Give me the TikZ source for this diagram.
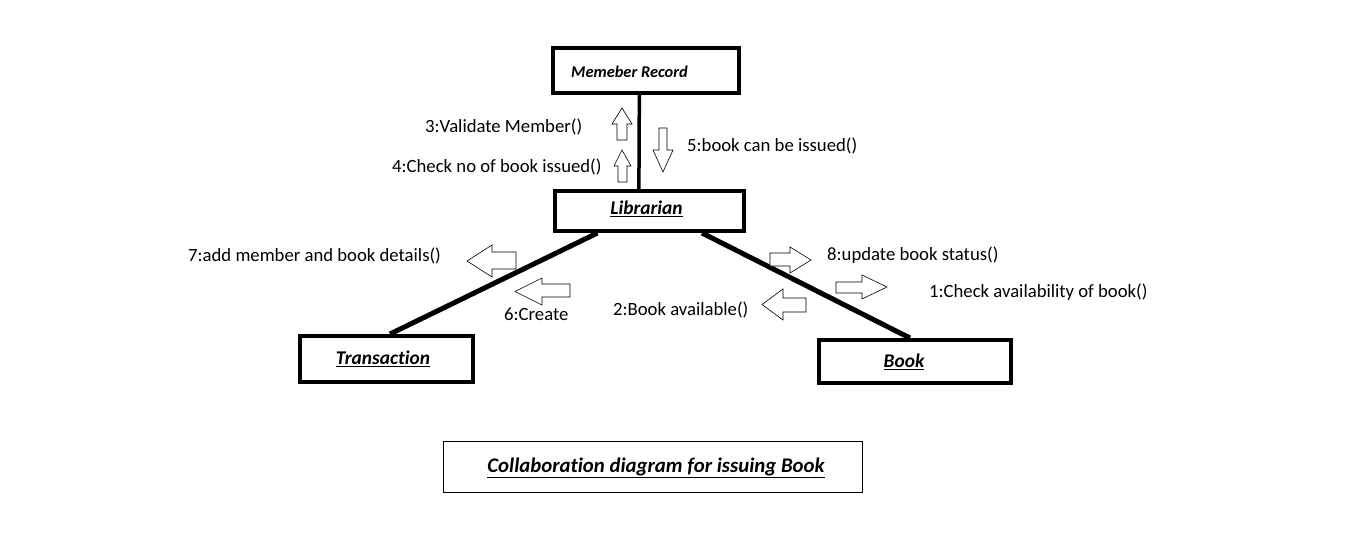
\documentclass[tikz,border=0pt]{standalone}
\usepackage{fontspec}
\setmainfont{Carlito}[Ligatures={NoCommon}]
\usetikzlibrary{calc}
\begin{document}
\begin{tikzpicture}[x=1pt,y=-1pt,
  objbox/.style={draw,line width=4pt,inner sep=0pt},
  conn/.style={line width=5pt},
  msg/.style={font=\fontsize{18.7}{20}\selectfont,anchor=west,inner sep=0pt,text=black},
  objlbl/.style={font=\fontsize{19.4}{21}\selectfont\bfseries\itshape,inner sep=0pt},
  blockarrow/.style={draw,line width=0.6pt,fill=white,line join=miter}]
\useasboundingbox (0,0) rectangle (1360,543);
% objects
\node[objbox,minimum width=186pt,minimum height=45pt] (member) at (646,70.5) {};
\node[anchor=west,inner sep=0pt,font=\fontsize{16.4}{18}\selectfont\bfseries\itshape] (memberlbl) at (571,72) {Memeber Record};
\node[objbox,minimum width=189pt,minimum height=40pt] (lib) at (649.5,211) {};
\node[objlbl] (liblbl) at (646.5,209) {\underline{Librarian}};
\node[objbox,minimum width=173pt,minimum height=46pt] (trans) at (386.5,359) {};
\node[objlbl] (translbl) at (383,359) {\underline{Transaction}};
\node[objbox,minimum width=192pt,minimum height=43pt] (book) at (915,361.5) {};
\node[objlbl] (booklbl) at (904,362) {\underline{Book}};
\node[draw,line width=0.8pt,minimum width=419pt,minimum height=51pt,inner sep=0pt] (caption) at (652.5,466.5) {};
\node[font=\fontsize{20.8}{23}\selectfont\bfseries\itshape,inner sep=0pt] (captionlbl) at (656,468) {\underline{Collaboration diagram for issuing Book}};
% connectors
\draw[line width=3.5pt] ($(member.south west)!0.465!(member.south east)$) -- ($(lib.north west)!0.445!(lib.north east)$);
\draw[conn] ($(lib.south west)!0.23!(lib.south east)$) -- ($(trans.north west)!0.52!(trans.north east)$);
\draw[conn] ($(lib.south west)!0.772!(lib.south east)$) -- ($(book.north west)!0.474!(book.north east)$);
% block arrows
% 3 up
\draw[blockarrow] (617,140) -- (617,124) -- (612,124) -- (622,108) -- (632,124) -- (627,124) -- (627,140) -- cycle;
% 4 up
\draw[blockarrow] (618,182) -- (618,166) -- (614,166) -- (622,150) -- (631,166) -- (627,166) -- (627,182) -- cycle;
% 5 down
\draw[blockarrow] (659,128) -- (659,150) -- (653,150) -- (663,172) -- (673,150) -- (667,150) -- (667,128) -- cycle;
% 7 left
\draw[blockarrow] (516,252) -- (492,252) -- (492,245) -- (467,261) -- (492,277) -- (492,269) -- (516,269) -- cycle;
% 6 left
\draw[blockarrow] (570,284) -- (542,284) -- (542,278) -- (515,291.5) -- (542,305) -- (542,297) -- (570,297) -- cycle;
% 8 right
\draw[blockarrow] (770,253) -- (790,253) -- (790,247) -- (811,260) -- (790,273) -- (790,266) -- (770,266) -- cycle;
% 1 right
\draw[blockarrow] (836,282) -- (862,282) -- (862,275) -- (887,287) -- (862,299) -- (862,293) -- (836,293) -- cycle;
% 2 left
\draw[blockarrow] (806,298) -- (783,298) -- (783,289) -- (762,304.5) -- (783,320) -- (783,312) -- (806,312) -- cycle;
% messages
\node[msg] (m3) at (425,127) {3:Validate Member()};
\node[msg] (m4) at (392,167) {4:Check no of book issued()};
\node[msg] (m5) at (687,146) {5:book can be issued()};
\node[msg] (m7) at (188,256) {7:add member and book details()};
\node[msg] (m6) at (504,314) {6:Create};
\node[msg] (m2) at (613,310) {2:Book available()};
\node[msg] (m8) at (827,255) {8:update book status()};
\node[msg] (m1) at (929,292) {1:Check availability of book()};
\end{tikzpicture}
\end{document}
